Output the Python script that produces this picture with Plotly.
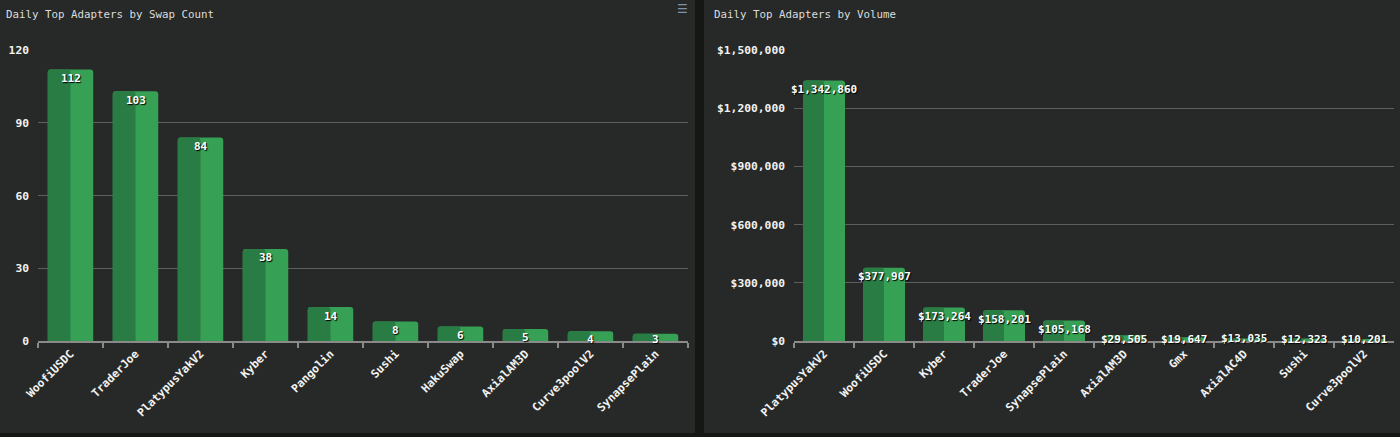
import plotly.graph_objects as go

count_cats = ["WoofiUSDC", "TraderJoe", "PlatypusYakV2", "Kyber", "Pangolin",
              "Sushi", "HakuSwap", "AxialAM3D", "Curve3poolV2", "SynapsePlain"]
count_vals = [112, 103, 84, 38, 14, 8, 6, 5, 4, 3]
count_ticks = [0, 30, 60, 90, 120]

vol_cats = ["PlatypusYakV2", "WoofiUSDC", "Kyber", "TraderJoe", "SynapsePlain",
            "AxialAM3D", "Gmx", "AxialAC4D", "Sushi", "Curve3poolV2"]
vol_vals = [1342860, 377907, 173264, 158201, 105168, 29505, 19647, 13035, 12323, 10201]
vol_ticks = [0, 300000, 600000, 900000, 1200000, 1500000]

title_left = "Daily Top Adapters by Swap Count"
title_right = "Daily Top Adapters by Volume"

PANEL = "#262927"
SEP = "#141714"
LIGHT = "#36a055"
DARK = "#2a7c45"
MONO = "DejaVu Sans Mono"
W, H = 1400, 437
PLOT_TOP, PLOT_BOTTOM = 50, 341
PLOT_H = PLOT_BOTTOM - PLOT_TOP

fig = go.Figure()
annotations = []

def add_panel(cats, vals, xa, ya, labels, ymax):
    fig.add_trace(go.Bar(x=cats, y=vals, width=0.7, marker=dict(color=LIGHT, cornerradius=3, line=dict(width=0)),
                         xaxis=xa, yaxis=ya, hoverinfo="skip", showlegend=False))
    fig.add_trace(go.Bar(x=cats, y=vals, width=0.35, offset=-0.35,
                         marker=dict(color=DARK, cornerradius=3, line=dict(width=0)),
                         xaxis=xa, yaxis=ya, hoverinfo="skip", showlegend=False))
    for c, v, t in zip(cats, vals, labels):
        bar_px = v / ymax * PLOT_H
        shift = -max(0.0, min(9.0, bar_px - 2))
        annotations.append(dict(x=c, y=v, xref=xa, yref=ya, text=t, showarrow=False,
                                xanchor="center", yanchor="middle", yshift=shift,
                                font=dict(family=MONO, size=11, color="white", weight="bold",
                                          shadow="1px 1px 1px #000")))

add_panel(count_cats, count_vals, "x", "y", [str(v) for v in count_vals], 120)
add_panel(vol_cats, vol_vals, "x2", "y2", ["${:,}".format(v) for v in vol_vals], 1500000)

ydom = [(H - PLOT_BOTTOM) / H, (H - PLOT_TOP) / H]
tickfont = dict(family=MONO, size=11.3, color="#f2f2f2", weight="bold")

xcommon = dict(type="category", showgrid=False, showline=True, linecolor="#8a8a8a", linewidth=1.5,
               ticks="outside", tickson="boundaries", ticklen=5, tickcolor="#8a8a8a", tickwidth=1.5,
               tickangle=-45, tickfont=tickfont, automargin=False, fixedrange=True)
ycommon = dict(showgrid=True, gridcolor="#5c5f5d", gridwidth=1, zeroline=False, showline=False,
               ticks="", ticklabelstandoff=8, tickfont=tickfont, domain=ydom, automargin=False,
               fixedrange=True, tickmode="array")

annotations += [
    dict(text=title_left, xref="paper", yref="paper", x=4 / W, y=(H - 14) / H,
         xanchor="left", yanchor="middle", showarrow=False,
         font=dict(family=MONO, size=10.8, color="#dcdcdc")),
    dict(text=title_right, xref="paper", yref="paper", x=712 / W, y=(H - 14) / H,
         xanchor="left", yanchor="middle", showarrow=False,
         font=dict(family=MONO, size=10.8, color="#dcdcdc")),
    dict(text="☰", xref="paper", yref="paper", x=682 / W, y=(H - 9) / H,
         xanchor="center", yanchor="middle", showarrow=False,
         font=dict(family="DejaVu Sans", size=12, color="#7d93ab")),
]

fig.update_layout(
    width=W, height=H,
    margin=dict(l=0, r=0, t=0, b=0, autoexpand=False),
    paper_bgcolor=PANEL, plot_bgcolor="rgba(0,0,0,0)",
    barmode="overlay", bargap=0.3,
    xaxis=dict(xcommon, domain=[38 / W, 688 / W], anchor="y", range=[-0.5, 9.5]),
    yaxis=dict(ycommon, anchor="x", range=[0, 120.05], tickvals=count_ticks,
               ticktext=[str(t) for t in count_ticks]),
    xaxis2=dict(xcommon, domain=[794 / W, 1394 / W], anchor="y2", range=[-0.5, 9.5]),
    yaxis2=dict(ycommon, anchor="x2", range=[0, 1500500], tickvals=vol_ticks,
                ticktext=["${:,}".format(t) for t in vol_ticks]),
    shapes=[
        dict(type="rect", xref="paper", yref="paper", x0=695 / W, x1=704 / W, y0=0, y1=1,
             fillcolor=SEP, line=dict(width=0), layer="below"),
        dict(type="rect", xref="paper", yref="paper", x0=0, x1=1, y0=0, y1=4 / H,
             fillcolor=SEP, line=dict(width=0), layer="below"),
    ],
    annotations=annotations,
)

fig.write_html("out.html", config={"displayModeBar": False},
               post_script="document.body.style.margin='0';document.body.style.background='#262927';")
